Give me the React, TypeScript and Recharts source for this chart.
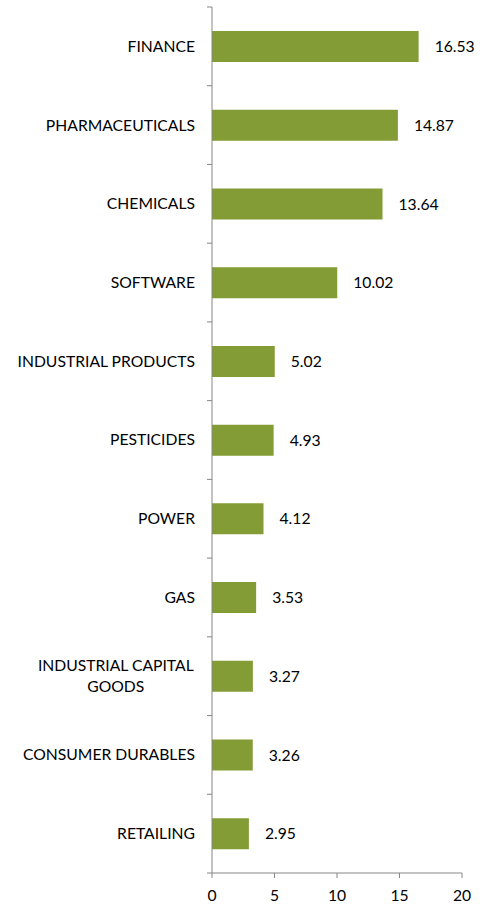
import React from 'react';
import { BarChart, Bar, XAxis, YAxis, LabelList } from 'recharts';

const categories = [
  'FINANCE',
  'PHARMACEUTICALS',
  'CHEMICALS',
  'SOFTWARE',
  'INDUSTRIAL PRODUCTS',
  'PESTICIDES',
  'POWER',
  'GAS',
  'INDUSTRIAL CAPITAL GOODS',
  'CONSUMER DURABLES',
  'RETAILING',
];
const values = [16.53, 14.87, 13.64, 10.02, 5.02, 4.93, 4.12, 3.53, 3.27, 3.26, 2.95];
const xTicks = [0, 5, 10, 15, 20];

const data = categories.map((name, i) => ({ name, value: values[i] }));

const W = 489;
const H = 905;
const X_AXIS_H = 32;
const M = { top: 7, right: 27, bottom: 0, left: 0 };
const Y_AXIS_W = 212;
const AXIS_X = M.left + Y_AXIS_W;
const PLOT_H = H - M.top - M.bottom - X_AXIS_H;
const BAND = PLOT_H / categories.length;
const FONT = 'Lato, "Open Sans", sans-serif';
const FS = 15.7;
const AXIS_COLOR = '#868686';
const BAR_COLOR = '#839c35';

function splitLabel(s: string): string[] {
  if (s.length <= 20) return [s];
  const idx = s.lastIndexOf(' ', 19);
  return [s.slice(0, idx), s.slice(idx + 1)];
}

const YTick = (props: any) => {
  const { y, payload, index } = props;
  const lines = splitLabel(String(payload.value));
  const right = AXIS_X - 17;
  const longest = Math.max(...lines.map((l) => l.length));
  const lineH = 21;
  const startY = y - ((lines.length - 1) * lineH) / 2;
  return (
    <g>
      <line x1={AXIS_X - 5} x2={AXIS_X} y1={y - BAND / 2} y2={y - BAND / 2} stroke={AXIS_COLOR} />
      {index === categories.length - 1 && (
        <line x1={AXIS_X - 5} x2={AXIS_X} y1={y + BAND / 2} y2={y + BAND / 2} stroke={AXIS_COLOR} />
      )}
      {lines.map((l, i) => (
        <text
          key={i}
          x={lines.length > 1 ? right - (longest * 8.8) / 2 : right}
          y={startY + i * lineH}
          dy="0.35em"
          textAnchor={lines.length > 1 ? 'middle' : 'end'}
          fontFamily={FONT}
          fontSize={FS}
          fill="#000"
        >
          {l}
        </text>
      ))}
    </g>
  );
};

export default function App() {
  return (
    <div style={{ position: 'absolute', left: 0, top: 0, width: W, height: H, background: '#fff' }}>
      <BarChart width={W} height={H} data={data} layout="vertical" margin={M}>
        <XAxis
          type="number"
          domain={[0, 20]}
          ticks={xTicks}
          interval={0}
          height={X_AXIS_H}
          axisLine={{ stroke: AXIS_COLOR }}
          tickLine={{ stroke: AXIS_COLOR }}
          tickSize={5}
          tickMargin={12}
          tick={{ fill: '#000', fontFamily: FONT, fontSize: FS }}
        />
        <YAxis
          type="category"
          dataKey="name"
          width={Y_AXIS_W}
          interval={0}
          axisLine={{ stroke: AXIS_COLOR }}
          tickLine={false}
          tick={<YTick />}
        />
        <Bar dataKey="value" fill={BAR_COLOR} barSize={31} isAnimationActive={false}>
          <LabelList
            dataKey="value"
            position="right"
            offset={16}
            formatter={(v: any) => Number(v).toFixed(2)}
            style={{ fill: '#000', fontFamily: FONT, fontSize: FS }}
          />
        </Bar>
      </BarChart>
    </div>
  );
}
